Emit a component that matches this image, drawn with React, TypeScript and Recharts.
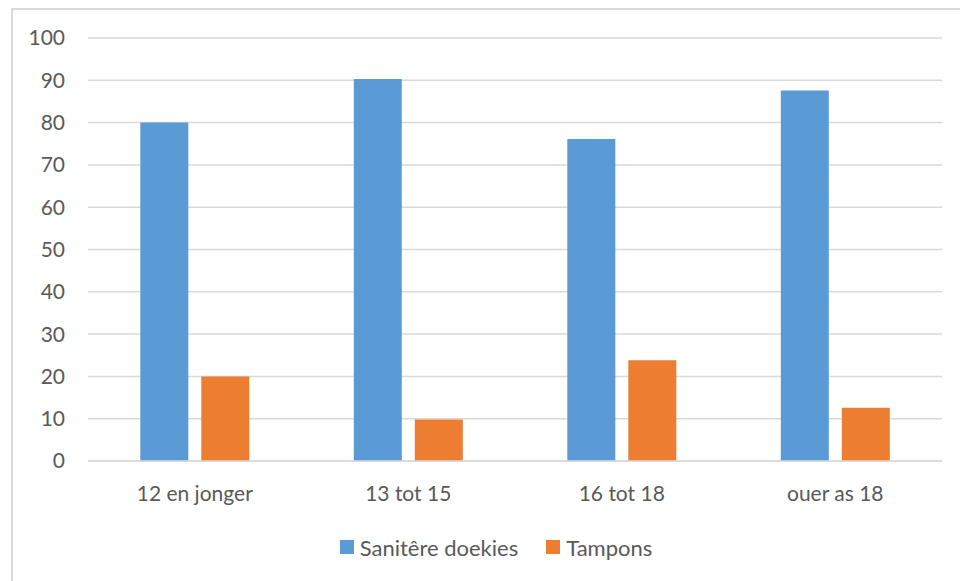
import { Bar, BarChart, CartesianGrid, Legend, XAxis, YAxis } from "recharts";

const categories = ["12 en jonger", "13 tot 15", "16 tot 18", "ouer as 18"];
const sanitereDoekies = [80, 90.3, 76.1, 87.6];
const tampons = [20, 9.8, 23.8, 12.6];
const yTicks = [0, 10, 20, 30, 40, 50, 60, 70, 80, 90, 100];

const BLUE = "#5B9BD5";
const ORANGE = "#ED7D31";
const TEXT = "#595959";
const GRID = "#D9D9D9";
const FONT = "Lato, 'Open Sans', sans-serif";
const FONT_SIZE = 21;

const data = categories.map((name, i) => ({
  name,
  doekies: sanitereDoekies[i],
  tampons: tampons[i],
}));

function LegendContent() {
  const items = [
    { label: "Sanitêre doekies", color: BLUE },
    { label: "Tampons", color: ORANGE },
  ];
  return (
    <div
      style={{
        display: "flex",
        justifyContent: "center",
        alignItems: "center",
        height: 30,
        gap: 28,
        paddingLeft: 32,
        boxSizing: "border-box",
        fontFamily: FONT,
        fontSize: 22,
        color: TEXT,
      }}
    >
      {items.map((it) => (
        <div key={it.label} style={{ display: "flex", alignItems: "center" }}>
          <span
            style={{
              display: "inline-block",
              width: 14,
              height: 14,
              background: it.color,
              marginRight: 6,
            }}
          />
          {it.label}
        </div>
      ))}
    </div>
  );
}

export default function App() {
  return (
    <div
      style={{
        position: "absolute",
        left: 0,
        top: 0,
        width: 960,
        height: 581,
        background: "#fff",
        overflow: "hidden",
      }}
    >
      <div
        style={{
          position: "absolute",
          left: 11,
          top: 8,
          width: 980,
          height: 600,
          borderLeft: `2px solid ${GRID}`,
          borderTop: `2px solid ${GRID}`,
          boxSizing: "border-box",
        }}
      />
      <BarChart
        width={960}
        height={581}
        data={data}
        margin={{ top: 38, right: 18, left: 0, bottom: 40 }}
        barCategoryGap="24.5%"
        barGap={13}
      >
        <CartesianGrid vertical={false} stroke={GRID} strokeWidth={1.5} />
        <XAxis
          dataKey="name"
          height={50}
          tickLine={false}
          tickSize={0}
          tickMargin={25}
          axisLine={{ stroke: GRID, strokeWidth: 1.5 }}
          tick={{ fill: TEXT, fontSize: FONT_SIZE, fontFamily: FONT }}
        />
        <YAxis
          width={88}
          domain={[0, 100]}
          ticks={yTicks}
          interval={0}
          tickLine={false}
          tickSize={0}
          tickMargin={23}
          axisLine={false}
          tick={{ fill: TEXT, fontSize: FONT_SIZE, fontFamily: FONT }}
        />
        <Legend
          verticalAlign="bottom"
          height={30}
          content={<LegendContent />}
          wrapperStyle={{ top: 532, left: 0, width: 960 }}
        />
        <Bar dataKey="doekies" fill={BLUE} isAnimationActive={false} />
        <Bar dataKey="tampons" fill={ORANGE} isAnimationActive={false} />
      </BarChart>
    </div>
  );
}
